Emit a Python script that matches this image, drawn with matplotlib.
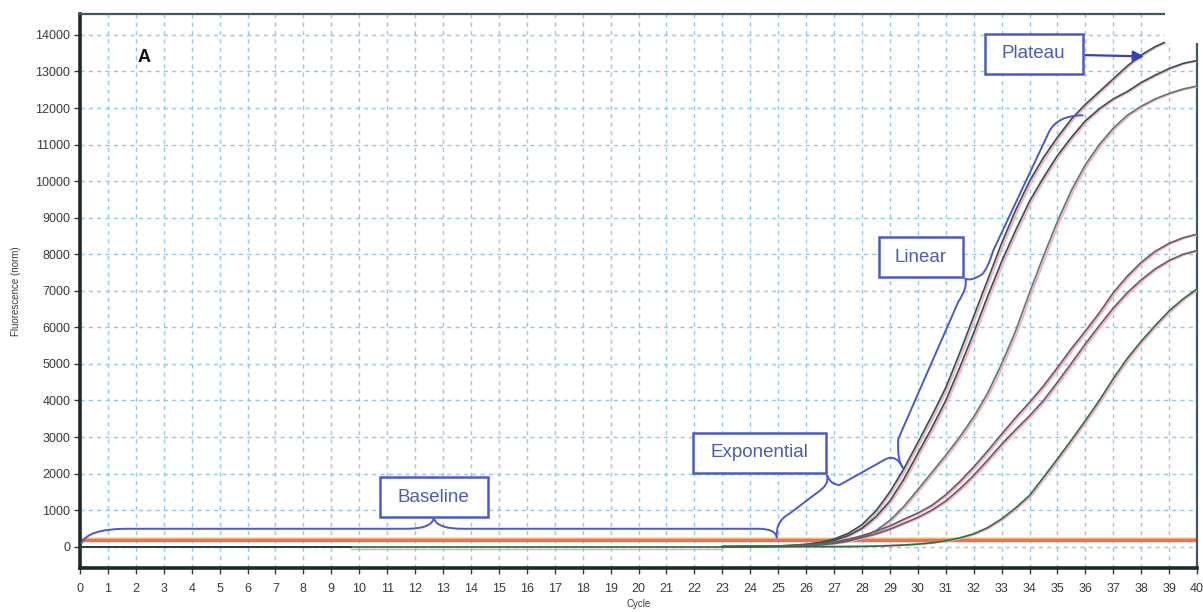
import numpy as np
import matplotlib.pyplot as plt
from matplotlib.path import Path
from matplotlib.patches import PathPatch, Rectangle

plt.rcParams['font.family'] = ['Liberation Sans', 'DejaVu Sans']

# amplification curves, read every half cycle from 23 to 40
cycles = np.arange(23, 40.5, 0.5)
curve_a = [0, 2, 5, 10, 18, 35, 65, 120, 210, 360,
           600, 980, 1500, 2130, 2850, 3580, 4350, 5300, 6300, 7300,
           8300, 9200, 10000, 10650, 11200, 11700, 12100, 12450, 12800, 13150,
           13450, 13680, 13850, 14000, 14100]
curve_b = [0, 1, 3, 6, 12, 25, 50, 95, 170, 300,
           500, 820, 1250, 1850, 2550, 3250, 4000, 4900, 5850, 6850,
           7800, 8650, 9450, 10100, 10700, 11200, 11650, 11980, 12250, 12450,
           12700, 12900, 13080, 13220, 13300]
curve_c = [0, 0, 1, 3, 6, 12, 25, 45, 85, 150,
           260, 440, 720, 1100, 1560, 2030, 2500, 3000, 3550, 4200,
           5000, 5900, 6950, 7950, 8900, 9750, 10450, 11000, 11450, 11800,
           12050, 12250, 12400, 12520, 12600]
pink_1 = [0, 2, 5, 10, 18, 30, 50, 80, 125, 200,
          300, 420, 570, 750, 920, 1130, 1420, 1780, 2180, 2620,
          3080, 3530, 3950, 4400, 4900, 5420, 5900, 6400, 6950, 7400,
          7780, 8080, 8300, 8450, 8550]
pink_2 = [0, 1, 4, 8, 14, 24, 40, 65, 100, 160,
          250, 350, 480, 640, 800, 1000, 1250, 1580, 1950, 2370,
          2800, 3200, 3580, 4000, 4500, 5020, 5550, 6050, 6530, 6950,
          7300, 7600, 7830, 8000, 8100]
green = [0, 0, 0, 0, 0, 0, 0, 0, 0, 3,
         8, 15, 28, 45, 70, 105, 160, 240, 350, 520,
         760, 1060, 1400, 1900, 2400, 2920, 3450, 4000, 4600, 5150,
         5620, 6050, 6450, 6780, 7050]

# flat early parts of the traces
flat_dark_x = [0, 9.7]
flat_dark_y = [0, 0]
flat_pink_x = [9.7, 23]
flat_pink_y = [-60, -60]
flat_green_x = [0, 23]
flat_green_y = [0, 0]

threshold = 170

phases = ['Baseline', 'Exponential', 'Linear', 'Plateau']
phase_pos = [(12.67, 1346), (24.33, 2564), (30.1, 7912), (34.15, 13480)]
phase_w = [3.87, 4.73, 3.0, 3.5]

blue = '#4a5ac8'

fig = plt.figure(figsize=(12.03, 6.12), dpi=100)
ax = fig.add_axes([0.0665, 0.0715, 0.9286, 0.9055])

ax.set_xlim(0, 40)
ax.set_ylim(-590, 14570)
ax.set_xticks(range(0, 41))
ax.set_yticks(range(0, 14001, 1000))
ax.grid(True, color='#93c8e6', linestyle=(0, (3, 3)), linewidth=1.0)
ax.set_axisbelow(True)

ax.tick_params(labelsize=9, colors='#3a3a3a', length=4, width=1, pad=3)
ax.tick_params(axis='x', pad=6.5)
ax.set_xlabel('Cycle', fontsize=7, color='#3a3a3a', labelpad=3)
ax.set_ylabel('Fluorescence (norm)', fontsize=7, color='#3a3a3a', labelpad=10)

for s in ['left', 'bottom']:
    ax.spines[s].set_linewidth(2.6)
    ax.spines[s].set_color('#1c2b2b')
for s in ['top', 'right']:
    ax.spines[s].set_linewidth(1.6)
    ax.spines[s].set_color('#3d5a60')

# threshold
ax.axhline(threshold, color='#ec6f5c', lw=3.2, zorder=2)
ax.axhline(threshold + 70, color='#f2b36a', lw=0.8, zorder=2)

# baselines
ax.plot(flat_green_x, flat_green_y, color='#2f7a3a', lw=1.3, zorder=3)
ax.plot(flat_dark_x, flat_dark_y, color='#2c3a3a', lw=1.3, zorder=3)
ax.plot(flat_pink_x, flat_pink_y, color='#e0a8c0', lw=1.0, zorder=3)

# curves (pink shadow + dark line, like the scanned original)
for ys, col in [(curve_a, '#34504f'), (curve_b, '#34504f'), (curve_c, '#5d7a72'),
                (pink_1, '#6b5a66'), (pink_2, '#6b5a66'), (green, '#2e6e3e')]:
    ax.plot(cycles + 0.08, ys, color='#f0b6c6', lw=1.6, zorder=3)
    ax.plot(cycles, ys, color=col, lw=1.2, zorder=4)


def draw_path(verts, codes):
    p = Path(verts, codes)
    ax.add_patch(PathPatch(p, fill=False, edgecolor=blue, lw=1.4, zorder=5,
                           capstyle='round', joinstyle='round'))


M, L, Q = Path.MOVETO, Path.LINETO, Path.CURVE3

# Baseline brace
draw_path([(0.05, 100), (0.3, 480), (1.6, 490), (11.7, 490), (12.6, 490), (12.67, 790),
           (12.75, 490), (13.7, 490), (24.3, 490), (24.9, 490), (24.95, 250)],
          [M, Q, Q, L, Q, Q, Q, Q, L, Q, Q])

# Exponential brace
draw_path([(24.95, 250), (24.9, 700), (25.4, 900), (26.4, 1480), (26.85, 1700), (26.75, 1950),
           (26.9, 1680), (27.2, 1690), (28.7, 2330), (29.2, 2600), (29.47, 2150)],
          [M, Q, Q, L, Q, Q, Q, Q, L, Q, Q])

# Linear brace
draw_path([(29.47, 2150), (29.25, 2350), (29.3, 2950), (31.45, 6700), (31.8, 7100), (31.7, 7330),
           (31.9, 7250), (32.3, 7450), (32.5, 7600), (32.7, 8100), (34.7, 11350),
           (35.0, 11800), (35.9, 11800)],
          [M, Q, Q, L, Q, Q, Q, Q, Q, Q, L, Q, Q])

box_h = 1094
for name, (px, py), w in zip(phases, phase_pos, phase_w):
    ax.add_patch(Rectangle((px - w / 2, py - box_h / 2), w, box_h, facecolor='white',
                           edgecolor=blue, lw=1.8, zorder=6))
    ax.text(px, py, name, fontsize=13.5, color='#4b5cb8', ha='center', va='center', zorder=7)

ax.annotate('', xy=(38.2, 13410), xytext=(35.9, 13450),
            arrowprops=dict(arrowstyle='-|>', color='#3344b8', lw=1.6, mutation_scale=16),
            zorder=6)

ax.text(2.31, 13370, 'A', fontsize=13, fontweight='bold', color='#111111',
        ha='center', va='center')

# scan crop at top-right corner of the original
fig.add_artist(Rectangle((1165 / 1203, 1 - 43 / 612), 40 / 1203, 43 / 612,
                         transform=fig.transFigure, facecolor='white', edgecolor='none', zorder=20))

fig.savefig('out.png', dpi=100)
